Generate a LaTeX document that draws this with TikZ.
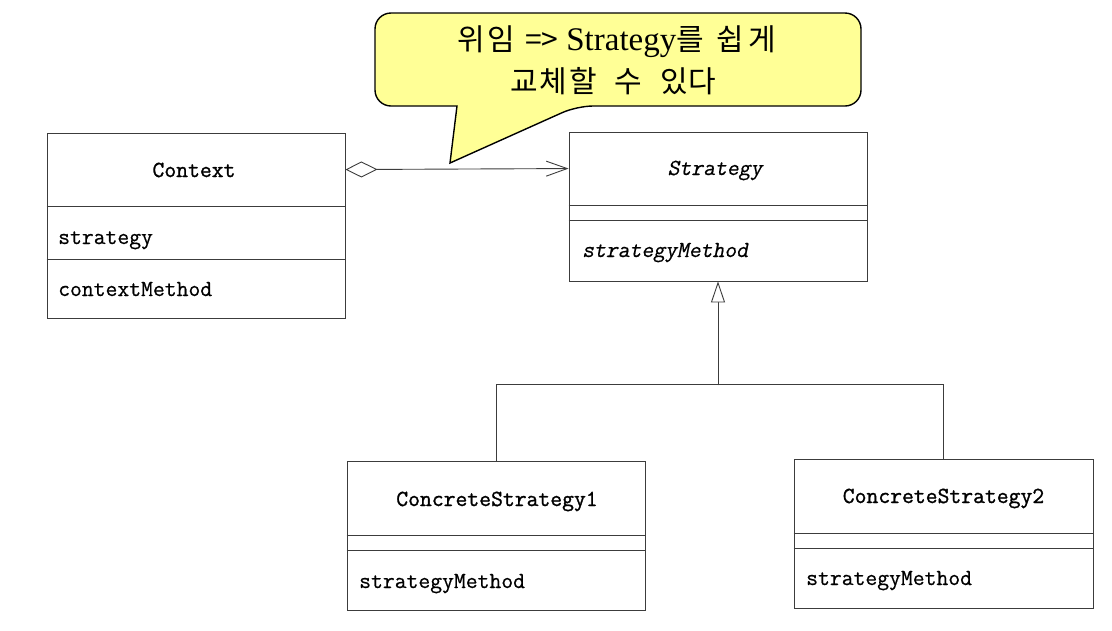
\documentclass[tikz,border=0pt]{standalone}
\usepackage{fontspec}
\usetikzlibrary{arrows.meta}
\newfontfamily\umlfont[FakeBold=0.6]{Latin Modern Mono}
\newfontfamily\umlslfont[FakeBold=0.6, FakeSlant=0.2]{Latin Modern Mono}
\newfontfamily\umlnamefont[FakeBold=1.2]{Latin Modern Mono}
\newfontfamily\kofont{Noto Sans CJK KR}
\newfontfamily\notefont{Liberation Serif}
\definecolor{umlgray}{RGB}{60,60,60}
\definecolor{noteyellow}{RGB}{255,255,150}

\begin{document}
\begin{tikzpicture}[x=1pt, y=-1pt,
  umlbox/.style={draw=umlgray, line width=0.9pt, minimum width=298pt, inner sep=0pt},
  classname/.style={anchor=base, inner sep=0pt, font=\fontsize{23}{23}\umlnamefont},
  member/.style={anchor=base west, inner sep=0pt, font=\fontsize{23}{23}\umlfont},
  link/.style={draw=umlgray, line width=0.9pt},
  aggr/.style={link, {Diamond[open, length=32pt, width=16pt]}-{Straight Barb[length=21pt, width=15pt]}},
  inherit/.style={link, -{Triangle[open, fill=white, length=21pt, width=14pt]}},
  notetext/.style={anchor=base, inner sep=0pt, font=\fontsize{30}{30}\kofont}]
%definitions
\def\calloutpath{(375,60) [rounded corners=16pt] -- (375,13) -- (861,13) -- (861,106) -- (577,106) [sharp corners] -- (450,163) -- (457,106) [rounded corners=16pt] -- (375,106) -- cycle}
\useasboundingbox (0,0) rectangle (1112,630);

%classes
\node[umlbox, minimum height=185pt] (context) at (196,225.5) {};
\node[umlbox, minimum height=149pt] (strategy) at (718,206.5) {};
\node[umlbox, minimum height=149pt] (cs1) at (496,535.5) {};
\node[umlbox, minimum height=149pt, minimum width=299pt] (cs2) at (943.5,533.5) {};

\draw[link] ([yshift=-74pt]context.north west) -- ([yshift=-74pt]context.north east);
\draw[link] ([yshift=-127pt]context.north west) -- ([yshift=-127pt]context.north east);
\draw[link] ([yshift=-74pt]strategy.north west) -- ([yshift=-74pt]strategy.north east);
\draw[link] ([yshift=-89pt]strategy.north west) -- ([yshift=-89pt]strategy.north east);
\draw[link] ([yshift=-75pt]cs1.north west) -- ([yshift=-75pt]cs1.north east);
\draw[link] ([yshift=-90pt]cs1.north west) -- ([yshift=-90pt]cs1.north east);
\draw[link] ([yshift=-75pt]cs2.north west) -- ([yshift=-75pt]cs2.north east);
\draw[link] ([yshift=-90pt]cs2.north west) -- ([yshift=-90pt]cs2.north east);

%texts
\node[classname] (contextname) at (194,177) {Context};
\node[member] (contextfield) at (58,244) {strategy};
\node[member] (contextop) at (58,296) {contextMethod};
\node[classname, font=\fontsize{23}{23}\umlslfont] (strategyname) at (715,175) {Strategy};
\node[member, font=\fontsize{23}{23}\umlslfont] (strategyop) at (582,257) {strategyMethod};
\node[classname] (cs1name) at (497,506) {ConcreteStrategy1};
\node[member] (cs1op) at (359,588) {strategyMethod};
\node[classname] (cs2name) at (943.5,503) {ConcreteStrategy2};
\node[member] (cs2op) at (806,585) {strategyMethod};

%connectors
\draw[aggr] ([yshift=-37pt]context.north east) -- ([yshift=-37pt]strategy.north west);
\draw[inherit] ([yshift=-104pt]strategy.south) -- (strategy.south);
\draw[link] (cs1.north) -- ++(0,-76) -| (cs2.north);

%callout
\filldraw[fill=noteyellow, draw=black, line width=1.4pt] \calloutpath;
\node[notetext] (notetop) at (617,50) {위\hspace{2pt}임\hspace{10pt}=>\hspace{8pt}{\fontsize{33}{33}\notefont Strategy}를\hspace{13pt}쉽\hspace{4pt}게};
\node[notetext] (notebottom) at (613,92) {교\hspace{2pt}체\hspace{2pt}할\hspace{18pt}수\hspace{18pt}있다};
\end{tikzpicture}
\end{document}
